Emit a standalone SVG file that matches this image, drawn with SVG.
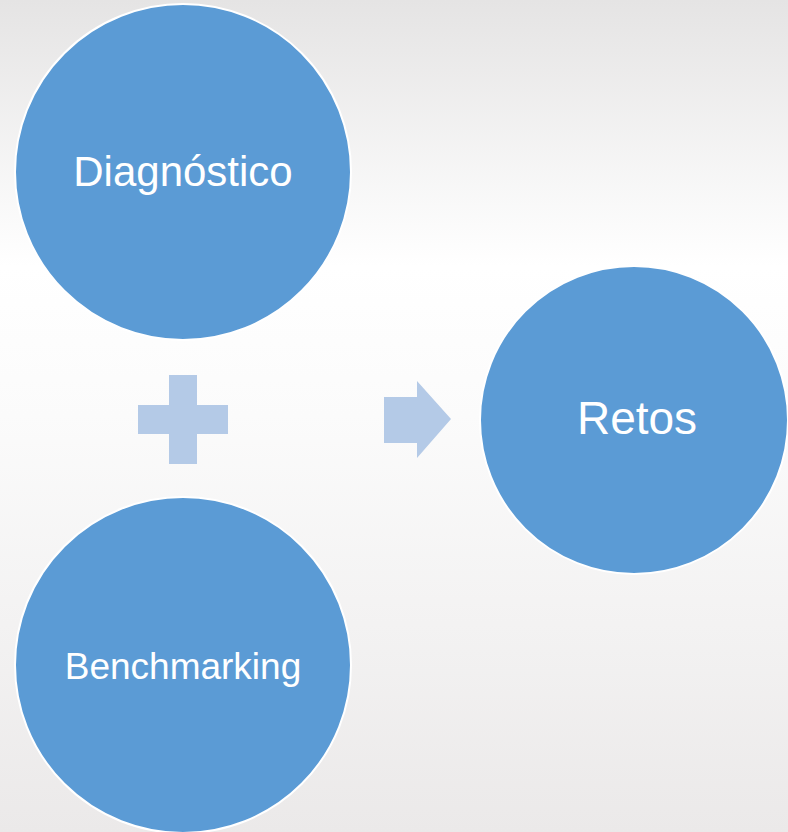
<svg xmlns="http://www.w3.org/2000/svg" width="788" height="832" viewBox="0 0 788 832">
<defs>
<linearGradient id="bg" x1="0" y1="0" x2="0" y2="1">
<stop offset="0" stop-color="#e5e4e4"/>
<stop offset="0.32" stop-color="#ffffff"/>
<stop offset="0.5" stop-color="#fbfbfb"/>
<stop offset="1" stop-color="#ebe9e9"/>
</linearGradient>
<style>
.node{fill:#5b9bd5;stroke:#ffffff;stroke-width:2}
.lbl{fill:#ffffff;font-family:"Liberation Sans",Arial,sans-serif;text-anchor:middle}
.op{fill:#b4cae7}
</style>
</defs>
<rect width="788" height="832" fill="url(#bg)"/>
<g id="diagnostico">
<circle class="node" cx="183" cy="172" r="168"/>
<text class="lbl" x="183" y="186" font-size="42">Diagnóstico</text>
</g>
<g id="benchmarking">
<circle class="node" cx="183" cy="665" r="168"/>
<text class="lbl" x="183" y="679" font-size="37">Benchmarking</text>
</g>
<g id="retos">
<circle class="node" cx="634" cy="420" r="154"/>
<text class="lbl" x="637" y="434" font-size="46">Retos</text>
</g>
<g id="connectors">
<path class="op" d="M169,375 H197 V405 H228 V434 H197 V464 H169 V434 H138 V405 H169 Z"/>
<path class="op" d="M384,397 H417 V381 L451,419 L417,458 V443 H384 Z"/>
</g>
</svg>
